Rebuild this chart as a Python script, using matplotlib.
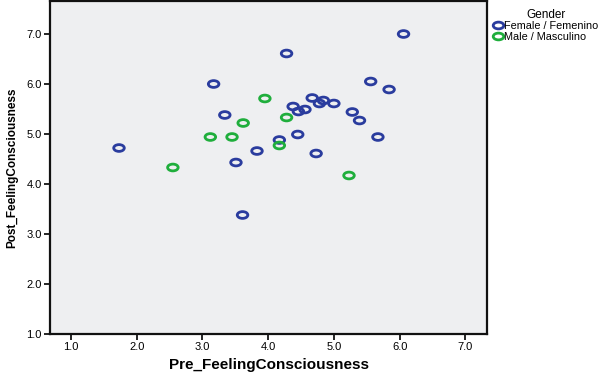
import matplotlib
matplotlib.use('Agg')
import matplotlib.pyplot as plt
from matplotlib.path import Path
from matplotlib.transforms import Affine2D
from matplotlib.lines import Line2D

plt.rcParams['font.family'] = ['Liberation Sans', 'DejaVu Sans']

# 점 데이터
female_pre = [1.73, 3.17, 3.34, 3.51, 3.83, 4.28, 4.17, 4.38, 4.46, 4.56, 4.67, 4.78,
              4.84, 5.00, 5.28, 5.39, 5.56, 5.84, 6.06, 5.67, 4.45, 4.73, 3.61]
female_post = [4.72, 6.00, 5.38, 4.43, 4.66, 6.61, 4.88, 5.55, 5.45, 5.49, 5.72, 5.61,
               5.67, 5.61, 5.44, 5.27, 6.05, 5.89, 7.00, 4.94, 4.99, 4.61, 3.38]
male_pre = [2.55, 3.12, 3.45, 3.62, 3.95, 4.28, 4.17, 5.23]
male_post = [4.33, 4.94, 4.94, 5.22, 5.71, 5.33, 4.77, 4.17]

ticks = [1.0, 2.0, 3.0, 4.0, 5.0, 6.0, 7.0]
tick_labels = ['1.0', '2.0', '3.0', '4.0', '5.0', '6.0', '7.0']

BLUE = '#2a3c9e'
GREEN = '#1fae3c'

# 납작한 타원 마커
ellipse = Path.unit_circle().transformed(Affine2D().scale(1.0, 0.64))

fig = plt.figure(figsize=(6, 3.72), dpi=100)
ax = fig.add_axes([50 / 600, (372 - 334) / 372, 437 / 600, 333 / 372])
ax.set_facecolor('#eeeff1')

ax.scatter(female_pre, female_post, marker=ellipse, s=58, facecolors='none',
           edgecolors=BLUE, linewidths=2.0, zorder=3)
ax.scatter(male_pre, male_post, marker=ellipse, s=58, facecolors='none',
           edgecolors=GREEN, linewidths=2.0, zorder=3)

ax.set_xlim(0.68, 7.33)
ax.set_ylim(1.0, 7.66)
ax.set_xticks(ticks)
ax.set_xticklabels(tick_labels)
ax.set_yticks(ticks)
ax.set_yticklabels(tick_labels)
ax.tick_params(direction='out', length=4, width=1.2, labelsize=8, pad=2)

for s in ax.spines.values():
    s.set_linewidth(1.6)
    s.set_color('#111111')

ax.set_xlabel('Pre_FeelingConsciousness', fontsize=11, fontweight='bold', labelpad=4)
ax.set_ylabel('Post_FeelingConsciousness', fontsize=8.5, fontweight='bold', labelpad=6)

handles = [Line2D([], [], linestyle='none', marker=ellipse, markersize=7.6,
                  markerfacecolor='none', markeredgecolor=BLUE, markeredgewidth=2.0),
           Line2D([], [], linestyle='none', marker=ellipse, markersize=7.6,
                  markerfacecolor='none', markeredgecolor=GREEN, markeredgewidth=2.0)]
leg = fig.legend(handles, ['Female / Femenino', 'Male / Masculino'], title='Gender',
                 loc='upper left', bbox_to_anchor=(485 / 600, 1.0), frameon=False,
                 fontsize=7.8, title_fontsize=8.5, handlelength=0.8, handletextpad=0.15,
                 labelspacing=0.05, borderpad=0.3)

plt.savefig('out.png', dpi=100)
